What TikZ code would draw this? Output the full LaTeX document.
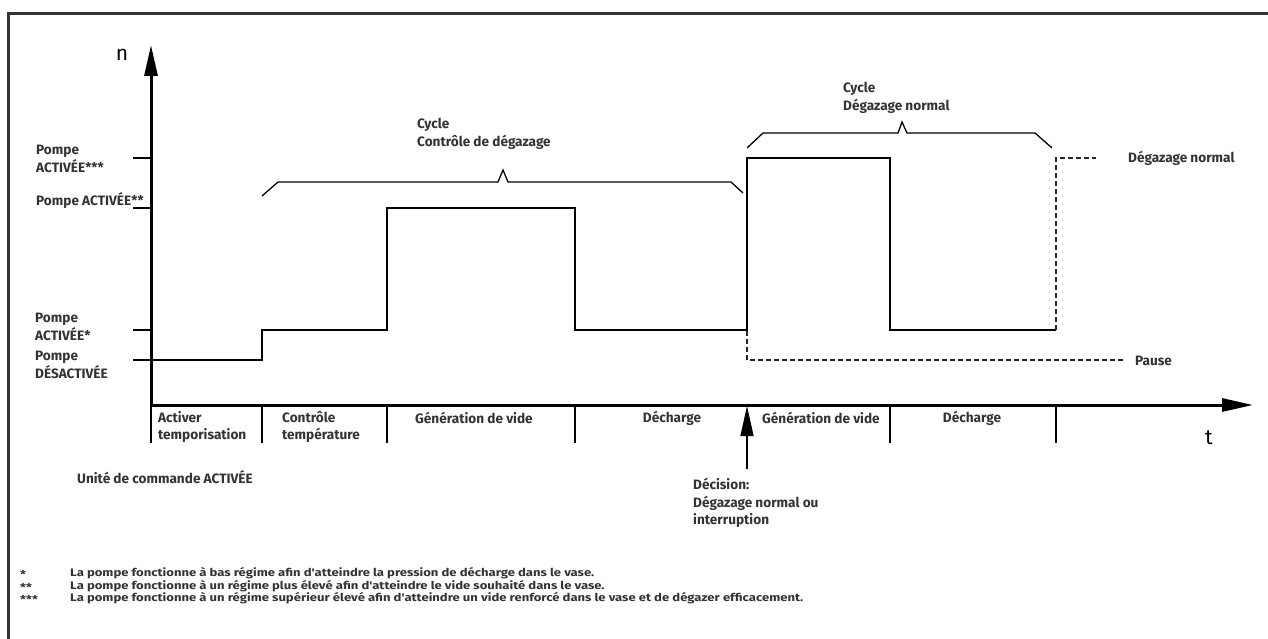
\documentclass[tikz,border=0pt]{standalone}
\usepackage{fontspec}
\setmainfont{Fira Sans}
\newfontfamily\labfont{Fira Sans}
\newfontfamily\fnfont{Fira Sans}[FakeStretch=1.2]
\usetikzlibrary{arrows.meta}
\definecolor{ink}{HTML}{333333}
\tikzset{
  lab/.style={font=\labfont\bfseries\fontsize{13.6}{17.8}\selectfont, text=ink, inner sep=0pt, align=left},
  fnote/.style={font=\fnfont\bfseries\fontsize{10.9}{12.5}\selectfont, text=ink, inner sep=0pt, anchor=west},
  axis/.style={line width=3pt, -{Triangle[length=31pt,width=13pt]}},
  sig/.style={line width=2pt, line join=miter},
  sigdash/.style={line width=1.3pt, dash pattern=on 5pt off 3pt, draw=black!85},
  brace/.style={line width=1.3pt},
  tick/.style={line width=1.3pt},
}
\begin{document}
\begin{tikzpicture}[x=1pt,y=-1pt]
\useasboundingbox (0,0) rectangle (1268,639);
% frame
\draw[line width=2.5pt, draw=black!80] (8.5,645) -- (8.5,13.5) -- (1275,13.5);

% axes
\coordinate (O) at (151,405);
\coordinate (ytop) at (151,45);
\coordinate (xend) at (1253,405);
\draw[axis] (151,406.5) -- (ytop);
\draw[axis] (149.5,405) -- (xend);
\node[font=\fontsize{21}{21}\selectfont] (n) at (122,55) {n};
\node[font=\fontsize{21}{21}\selectfont] (t) at (1209,438) {t};

% y ticks
\foreach \yy in {158,208,330,360} \draw[tick] (133,\yy) -- (151,\yy);
% x ticks
\foreach \xx in {151,262,387,575,890,1056} \draw[tick] (\xx,405) -- (\xx,443);

% y labels
\node[lab, anchor=west] (p3) at (36,159) {Pompe\\ACTIVÉE***};
\node[lab, anchor=west] (p2) at (36,201) {Pompe ACTIVÉE**};
\node[lab, anchor=west] (p1) at (35,327) {Pompe\\ACTIVÉE*};
\node[lab, anchor=west] (p0) at (35,365) {Pompe\\DÉSACTIVÉE};

% signal
\draw[sig] (151,360) -- (262,360) -- (262,330) -- (387,330) -- (387,208) -- (575,208)
  -- (575,330) -- (747,330) -- (747,158) -- (890,158) -- (890,330) -- (1056,330);
\draw[sigdash] (1056,330) -- (1056,158) -- (1096,158);
\draw[sigdash] (747,331) -- (747,360) -- (1125,360);

% braces
\draw[brace] (262,196) -- (278,182) -- (498,182) -- (503,170) -- (508,182) -- (731,182) -- (743,193);
\draw[brace] (747,148) -- (763,133) -- (898,133) -- (902,122) -- (907,133) -- (1035,133) -- (1052,148);
\node[lab, anchor=west] (c1) at (417,134) {Cycle\\Contrôle de dégazage};
\node[lab, anchor=west] (c2) at (843,98) {Cycle\\Dégazage normal};
\node[lab, anchor=west] (dn) at (1128,158) {Dégazage normal};
\node[lab, anchor=west] (pause) at (1135,361) {Pause};

% phase labels
\node[lab, anchor=west] (ph1) at (158,427) {Activer\\temporisation};
\node[lab, anchor=west] (ph2) at (282,427) {Contrôle\\température};
\node[lab, anchor=west] (ph3) at (415,418) {Génération de vide};
\node[lab] (ph4) at (672,418) {Décharge};
\node[lab, anchor=west] (ph5) at (762,418) {Génération de vide};
\node[lab] (ph6) at (972,418) {Décharge};

% decision
\coordinate (dtail) at (747,469);
\coordinate (dtip) at (747,406);
\draw[line width=1.3pt, -{Triangle[length=30pt,width=13pt]}] (dtail) -- (dtip);
\node[lab, anchor=west] (dec) at (693,503) {Décision:\\Dégazage normal ou\\interruption};

\node[lab, anchor=west] (uc) at (77,477) {Unité de commande ACTIVÉE};

% footnotes
\node[fnote] (s1) at (20,574) {*};
\node[fnote] (s2) at (20,587) {**};
\node[fnote] (s3) at (20,599) {***};
\node[fnote] (f1) at (70,573) {La pompe fonctionne à bas régime afin d'atteindre la pression de décharge dans le vase.};
\node[fnote] (f2) at (70,586) {La pompe fonctionne à un régime plus élevé afin d'atteindre le vide souhaité dans le vase.};
\node[fnote] (f3) at (70,598) {La pompe fonctionne à un régime supérieur élevé afin d'atteindre un vide renforcé dans le vase et de dégazer efficacement.};
\end{tikzpicture}
\end{document}
